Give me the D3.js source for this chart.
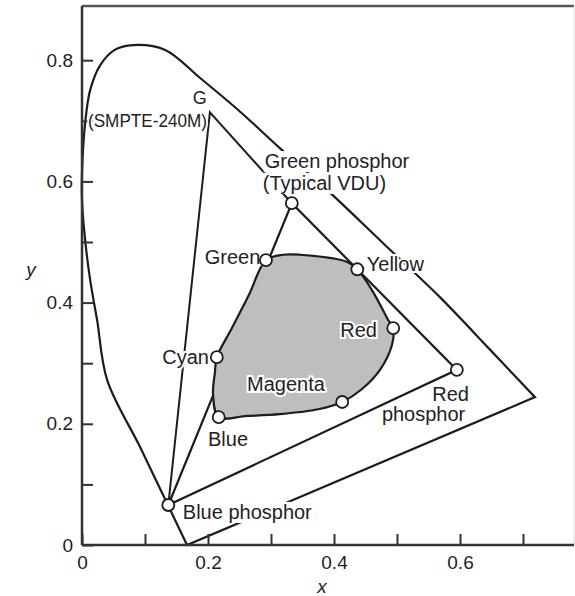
<!DOCTYPE html>
<html>
<head>
<meta charset="utf-8">
<script src="https://cdn.jsdelivr.net/npm/d3@7"></script>
<style>
  html, body { margin: 0; padding: 0; background: #fff; }
  svg { display: block; }
  text { font-family: "Liberation Sans", Arial, sans-serif; fill: #222; }
</style>
</head>
<body>
<svg id="chart" width="575" height="596"></svg>
<script>
// ---------- data (CIE x, y chromaticity) ----------
const spectralLocusX = [0.1667,0.135,0.092,0.040,0.024,0.013,0.005,0.000,0.000,0.005,0.013,0.029,0.052,0.081,0.132,0.187,0.251,0.314,0.394,0.478,0.568,0.648,0.719];
const spectralLocusY = [0.000,0.069,0.162,0.272,0.371,0.437,0.503,0.569,0.614,0.696,0.751,0.792,0.817,0.825,0.817,0.771,0.715,0.655,0.581,0.498,0.409,0.322,0.244];

const phosphorNames = ["Blue phosphor","Green phosphor","Red phosphor"];
const phosphorX = [0.137, 0.333, 0.595];
const phosphorY = [0.066, 0.564, 0.289];

const smpteGreenX = 0.203;
const smpteGreenY = 0.714;

const inkNames = ["Green","Yellow","Red","Magenta","Blue","Cyan"];
const inkX = [0.292, 0.437, 0.494, 0.413, 0.217, 0.214];
const inkY = [0.470, 0.455, 0.358, 0.236, 0.211, 0.310];

const inkOutlineX = [0.292,0.319,0.346,0.421,0.437,0.460,0.484,0.494,0.492,0.473,0.444,0.413,0.375,0.314,0.262,0.217,0.208,0.211,0.214,0.238,0.265];
const inkOutlineY = [0.470,0.479,0.479,0.467,0.455,0.421,0.375,0.355,0.330,0.289,0.257,0.236,0.224,0.216,0.213,0.211,0.248,0.285,0.310,0.358,0.413];

const xTicks = [0,0.1,0.2,0.3,0.4,0.5,0.6,0.7];
const xTickLabels = ["0","","0.2","","0.4","","0.6",""];
const yTicks = [0,0.1,0.2,0.3,0.4,0.5,0.6,0.7,0.8];
const yTickLabels = ["0","","0.2","","0.4","","0.6","","0.8"];

// annotation texts with anchor in data units
const labelText   = ["G","(SMPTE-240M)","Green phosphor","(Typical VDU)","Green","Yellow","Red","Magenta","Cyan","Blue","Blue phosphor","Red","phosphor"];
const labelX      = [0.187,0.0095,0.290,0.287,0.283,0.452,0.410,0.262,0.2016,0.200,0.160,0.556,0.476];
const labelY      = [0.728,0.690,0.622,0.586,0.464,0.452,0.343,0.254,0.299,0.163,0.043,0.238,0.205];
const labelAnchor = ["middle","start","start","start","end","start","start","start","end","start","start","start","start"];
const labelSize   = [18,19,20,20,20,20,20,20,20,20,20,20,20];
const labelBox    = [false,false,true,true,false,false,false,false,false,false,true,false,false];

// ---------- scales ----------
const x = d3.scaleLinear().domain([0, 0.7]).range([82, 523]);
const y = d3.scaleLinear().domain([0, 0.8]).range([545, 60.2]);
const xMax = x.invert(574), yMax = y.invert(6);

const svg = d3.select("#chart");
const ink = "#1c1c1c";

// frame (top and right)
svg.append("line").attr("x1", x(0)).attr("x2", x(xMax)).attr("y1", y(yMax)).attr("y2", y(yMax))
  .attr("stroke", "#555").attr("stroke-width", 2.5);
svg.append("line").attr("x1", x(xMax)).attr("x2", x(xMax)).attr("y1", y(yMax)).attr("y2", y(0))
  .attr("stroke", "#ddd").attr("stroke-width", 1);

const line = d3.line().x(d => x(d[0])).y(d => y(d[1]));

// spectral locus (smooth) closed by the straight purple line
const locus = spectralLocusX.map((v, i) => [v, spectralLocusY[i]]);
svg.append("path")
  .attr("d", d3.line().x(d => x(d[0])).y(d => y(d[1])).curve(d3.curveCatmullRom.alpha(0.5))(locus) + "Z")
  .attr("fill", "none").attr("stroke", ink).attr("stroke-width", 2.2).attr("stroke-linejoin", "miter");

// SMPTE-240M lines
const P = phosphorX.map((v, i) => [v, phosphorY[i]]);
const G = [smpteGreenX, smpteGreenY];
svg.append("path").attr("d", line([P[0], G, P[1]]))
  .attr("fill", "none").attr("stroke", ink).attr("stroke-width", 2);

// VDU triangle
svg.append("path").attr("d", line([P[0], P[1], P[2]]) + "Z")
  .attr("fill", "none").attr("stroke", ink).attr("stroke-width", 2.2);

// ink gamut
const outline = inkOutlineX.map((v, i) => [v, inkOutlineY[i]]);
svg.append("path")
  .attr("d", d3.line().x(d => x(d[0])).y(d => y(d[1])).curve(d3.curveCatmullRomClosed.alpha(0.5))(outline))
  .attr("fill", "#bebebe").attr("stroke", ink).attr("stroke-width", 2.2);

// axes
const xAxis = d3.axisBottom(x).tickValues(xTicks).tickSize(-11).tickSizeOuter(0).tickPadding(11)
  .tickFormat((d, i) => xTickLabels[i]);
const yAxis = d3.axisLeft(y).tickValues(yTicks).tickSize(-11).tickSizeOuter(0).tickPadding(9)
  .tickFormat((d, i) => yTickLabels[i]);

const gx = svg.append("g").attr("transform", `translate(0,${y(0)})`).call(xAxis);
const gy = svg.append("g").attr("transform", `translate(${x(0)},0)`).call(yAxis);
gx.select(".domain").attr("d", `M${x(0)},0H${x(xMax)}`);
gy.select(".domain").attr("d", `M0,${y(0)}V${y(yMax)}`);
[gx, gy].forEach(g => {
  g.select(".domain").attr("stroke", "#333").attr("stroke-width", 2.5);
  g.selectAll(".tick line").attr("stroke", "#333").attr("stroke-width", 2);
  g.selectAll(".tick text").attr("font-size", 19).attr("fill", "#333")
    .attr("font-family", "Liberation Sans, Arial, sans-serif");
});

// labels
const labels = svg.append("g");
labelText.forEach((t, i) => {
  const tx = labels.append("text")
    .attr("x", x(labelX[i])).attr("y", y(labelY[i]))
    .attr("text-anchor", labelAnchor[i])
    .attr("font-size", labelSize[i])
    .text(t);
  if (t === "(SMPTE-240M)") {
    tx.attr("textLength", 119).attr("lengthAdjust", "spacingAndGlyphs");
  }
  if (labelBox[i]) {
    const b = tx.node().getBBox();
    labels.insert("rect", () => tx.node())
      .attr("x", b.x - 1).attr("y", b.y + 1).attr("width", b.width + 2).attr("height", b.height - 1)
      .attr("fill", "#fff");
  } else {
    tx.attr("stroke", "#fff").attr("stroke-width", 4).attr("paint-order", "stroke");
  }
});

// circles
const pts = P.concat(inkX.map((v, i) => [v, inkY[i]]));
svg.append("g").selectAll("circle").data(pts).join("circle")
  .attr("cx", d => x(d[0])).attr("cy", d => y(d[1])).attr("r", 6)
  .attr("fill", "#fff").attr("stroke", ink).attr("stroke-width", 1.8);

// axis titles
svg.append("text").attr("x", 31).attr("y", 276).attr("text-anchor", "middle")
  .attr("font-size", 19).attr("font-style", "italic").text("y");
svg.append("text").attr("x", 322).attr("y", 593).attr("text-anchor", "middle")
  .attr("font-size", 19).attr("font-style", "italic").text("x");
</script>
</body>
</html>
